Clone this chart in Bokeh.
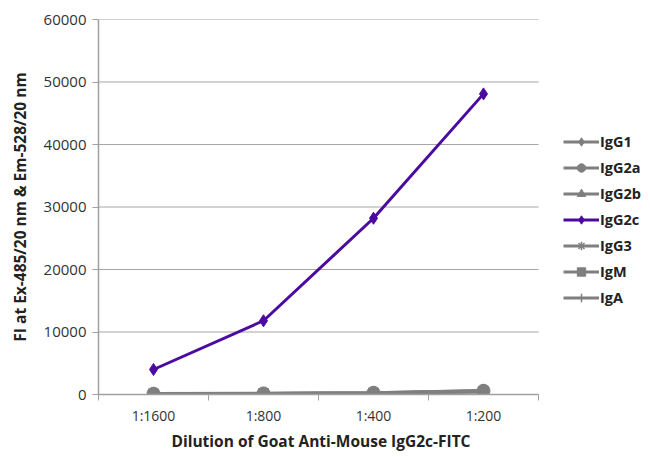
from bokeh.plotting import figure
from bokeh.models import FixedTicker, Legend, LegendItem, Range1d, Title
from bokeh.embed import file_html
from bokeh.resources import INLINE

dilutions = ["1:1600", "1:800", "1:400", "1:200"]
series_names = ["IgG1", "IgG2a", "IgG2b", "IgG2c", "IgG3", "IgM", "IgA"]
igg1 = [150, 200, 300, 650]
igg2a = [130, 180, 280, 600]
igg2b = [120, 170, 260, 560]
igg2c = [4000, 11800, 28200, 48100]
igg3 = [100, 150, 230, 500]
igm = [90, 140, 210, 450]
iga = [80, 120, 190, 400]
y_ticks = [0, 10000, 20000, 30000, 40000, 50000, 60000]
x_title = "Dilution of Goat Anti-Mouse IgG2c-FITC"
y_title = "FI at Ex-485/20 nm & Em-528/20 nm"

values = [igg1, igg2a, igg2b, igg2c, igg3, igm, iga]
markers = ["diamond", "circle", "triangle", "diamond", "asterisk", "square", "cross"]
colors = ["#7f7f7f", "#7f7f7f", "#7f7f7f", "#4b0aa0", "#7f7f7f", "#7f7f7f", "#7f7f7f"]

FONT = "Open Sans"
n = len(dilutions)

p = figure(frame_width=544, frame_height=375, output_backend="svg", toolbar_location=None,
           x_range=Range1d(0, n * 544 / 440), y_range=Range1d(0, 60000),
           min_border_left=98, min_border_top=19, min_border_bottom=40, min_border_right=0)
p.outline_line_color = None
p.background_fill_color = "white"

# horizontal gridlines limited to the category area
p.segment(x0=[0] * len(y_ticks), x1=[n] * len(y_ticks), y0=y_ticks, y1=y_ticks,
          line_color="#a6a6a6", line_width=1.2)

xs = [i + 0.5 for i in range(n)]

order = [6, 5, 4, 2, 1, 0, 3]
renderers = {}
for i in order:
    col = colors[i]
    r1 = p.line(xs, values[i], line_color=col, line_width=3)
    m = markers[i]
    size = {"diamond": 12, "circle": 13, "triangle": 11, "square": 10,
            "asterisk": 10, "cross": 10}[m]
    r2 = p.scatter(xs, values[i], marker=m, size=size, fill_color=col,
                   line_color=col, line_width=1.5 if m in ("asterisk", "cross") else 1)
    renderers[i] = [r1, r2]
items = [LegendItem(label=series_names[i], renderers=renderers[i]) for i in range(len(series_names))]

legend = Legend(items=items, location=(465, 86), border_line_color=None,
                background_fill_alpha=0, label_text_font=FONT, label_text_font_style="bold",
                label_text_font_size="14.5px", label_text_color="#222222",
                glyph_width=36, glyph_height=21, spacing=5, label_standoff=1,
                padding=0, margin=0)
p.add_layout(legend, "center")

p.xaxis.ticker = FixedTicker(ticks=xs, minor_ticks=list(range(n + 1)))
p.xaxis.bounds = (0, n)
p.xaxis.major_label_overrides = {x: d for x, d in zip(xs, dilutions)}
p.xaxis.major_tick_line_color = None
p.xaxis.major_tick_out = 6
p.xaxis.minor_tick_out = 6
p.xaxis.minor_tick_in = 0
p.xaxis.minor_tick_line_color = "#a0a0a0"
p.xaxis.axis_line_color = "#a0a0a0"
p.xaxis.axis_line_width = 1.5
p.xaxis.major_label_text_font = FONT
p.xaxis.major_label_text_font_size = "14px"
p.xaxis.major_label_text_color = "#333333"
p.xaxis.major_label_standoff = 5

xt = Title(text=x_title, align="left", offset=73, text_font=FONT, text_font_style="bold",
           text_font_size="15.5px", text_color="#222222", standoff=0)
p.add_layout(xt, "below")

p.yaxis.ticker = FixedTicker(ticks=y_ticks)
p.yaxis.minor_tick_line_color = None
p.yaxis.major_tick_out = 6
p.yaxis.major_tick_in = 0
p.yaxis.major_tick_line_color = "#a0a0a0"
p.yaxis.axis_line_color = "#a0a0a0"
p.yaxis.axis_line_width = 1.5
p.yaxis.axis_label = y_title
p.yaxis.axis_label_text_font = FONT
p.yaxis.axis_label_text_font_style = "bold"
p.yaxis.axis_label_text_font_size = "15.5px"
p.yaxis.axis_label_text_color = "#222222"
p.yaxis.axis_label_standoff = 10
p.yaxis.major_label_text_font = FONT
p.yaxis.major_label_text_font_size = "15px"
p.yaxis.major_label_text_color = "#333333"
p.yaxis.major_label_standoff = 6

p.xgrid.grid_line_color = None
p.ygrid.grid_line_color = None

open("out.html", "w").write(file_html(p, INLINE))
